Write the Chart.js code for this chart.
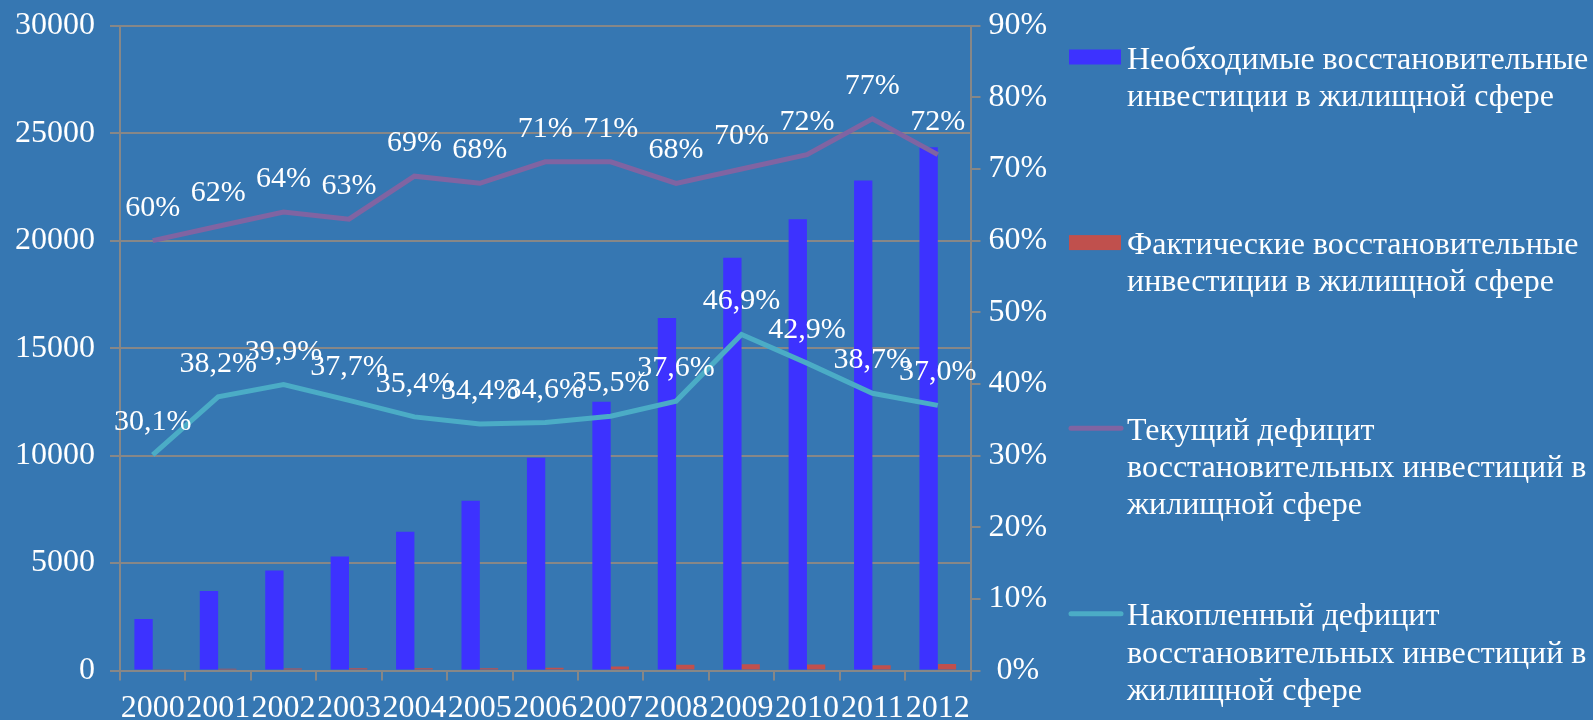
<!DOCTYPE html>
<html><head><meta charset="utf-8">
<script src="https://cdn.jsdelivr.net/npm/chart.js@4/dist/chart.umd.min.js"></script>
<style>
html,body{margin:0;padding:0;background:#3677B2;overflow:hidden;}
#wrap{position:relative;width:1593px;height:720px;}
</style>
</head><body><div id="wrap"><canvas id="c" width="1593" height="720"></canvas></div>
<script>
const categories = ['2000','2001','2002','2003','2004','2005','2006','2007','2008','2009','2010','2011','2012'];
const requiredInvest = [2400,3700,4650,5300,6450,7900,9900,12500,16400,19200,21000,22800,24350];
const actualInvest = [60,80,90,110,110,110,130,190,265,295,280,250,300];
const currentDeficit = [60,62,64,63,69,68,71,71,68,70,72,77,72];
const accumDeficit = [30.1,38.2,39.9,37.7,35.4,34.4,34.6,35.5,37.6,46.9,42.9,38.7,37.0];
const leftAxisMax = 30000, leftAxisStep = 5000;
const rightAxisMax = 90, rightAxisStep = 10;
const seriesNames = [
  'Необходимые восстановительные инвестиции в жилищной сфере',
  'Фактические восстановительные инвестиции в жилищной сфере',
  'Текущий дефицит восстановительных инвестиций в жилищной сфере',
  'Накопленный дефицит восстановительных инвестиций в жилищной сфере'
];

const FONT = "'Liberation Serif', 'Times New Roman', serif";
const GRID = '#878787';
const COLORS = ['#3D32FF', '#C0504D', '#8064A2', '#4BACC6'];

const fmtInt = v => v + '%';
const fmtDec = v => v.toFixed(1).replace('.', ',') + '%';

const dataLabels = {
  id: 'dataLabels',
  afterDatasetsDraw(chart) {
    const ctx = chart.ctx;
    ctx.save();
    ctx.fillStyle = '#ffffff';
    ctx.font = '30px ' + FONT;
    ctx.textAlign = 'center';
    ctx.textBaseline = 'alphabetic';
    chart.data.datasets.forEach((ds, di) => {
      if (!ds.labelFmt) return;
      const meta = chart.getDatasetMeta(di);
      meta.data.forEach((pt, i) => {
        ctx.fillText(ds.labelFmt(ds.data[i]), pt.x, pt.y - 25);
      });
    });
    ctx.restore();
  }
};

const sideLegend = {
  id: 'sideLegend',
  afterDraw(chart) {
    const ctx = chart.ctx;
    ctx.save();
    ctx.font = '32px ' + FONT;
    ctx.fillStyle = '#ffffff';
    ctx.textAlign = 'left';
    ctx.textBaseline = 'alphabetic';
    const symX = 1069, symW = 52, textX = 1127, lineH = 37.2, maxW = 472;
    const firstBase = 68.5, step = 185.6;
    chart.data.datasets.forEach((ds, di) => {
      const base = firstBase + di * step;
      const words = ds.label.split(' ');
      const lines = [];
      let cur = '';
      words.forEach(w => {
        const t = cur ? cur + ' ' + w : w;
        if (ctx.measureText(t).width > maxW && cur) { lines.push(cur); cur = w; }
        else cur = t;
      });
      if (cur) lines.push(cur);
      const cy = base - 11.5;
      if (ds.type === 'line') {
        ctx.strokeStyle = ds.borderColor;
        ctx.lineWidth = 5;
        ctx.lineCap = 'round';
        ctx.beginPath();
        ctx.moveTo(symX + 2, cy);
        ctx.lineTo(symX + symW, cy);
        ctx.stroke();
      } else {
        ctx.fillStyle = ds.backgroundColor;
        ctx.fillRect(symX, cy - 7.5, symW, 15);
      }
      ctx.fillStyle = '#ffffff';
      lines.forEach((ln, k) => ctx.fillText(ln, textX, base + k * lineH));
    });
    ctx.restore();
  }
};

const tickFont = { family: FONT, size: 32 };
const noPadV = s => { s.paddingTop = 0; s.paddingBottom = 0; };

new Chart(document.getElementById('c'), {
  type: 'bar',
  data: {
    labels: categories,
    datasets: [
      { type: 'bar', label: seriesNames[0], data: requiredInvest, backgroundColor: COLORS[0],
        yAxisID: 'y', order: 2, categoryPercentage: 0.56, barPercentage: 1.0 },
      { type: 'bar', label: seriesNames[1], data: actualInvest, backgroundColor: COLORS[1],
        yAxisID: 'y', order: 2, categoryPercentage: 0.56, barPercentage: 1.0 },
      { type: 'line', label: seriesNames[2], data: currentDeficit, borderColor: COLORS[2],
        backgroundColor: COLORS[2], borderWidth: 5, pointRadius: 0, tension: 0, fill: false,
        yAxisID: 'y1', order: 1, labelFmt: fmtInt },
      { type: 'line', label: seriesNames[3], data: accumDeficit, borderColor: COLORS[3],
        backgroundColor: COLORS[3], borderWidth: 5, pointRadius: 0, tension: 0, fill: false,
        yAxisID: 'y1', order: 1, labelFmt: fmtDec }
    ]
  },
  options: {
    responsive: false,
    animation: false,
    devicePixelRatio: 1,
    layout: { padding: { left: 0, top: 25.7, right: 542.5, bottom: 0 } },
    plugins: { legend: { display: false }, tooltip: { enabled: false } },
    scales: {
      x: {
        position: 'bottom',
        offset: true,
        grid: { offset: true, drawOnChartArea: false, drawTicks: true, tickLength: 10, color: GRID, lineWidth: 2 },
        border: { display: true, color: GRID, width: 2 },
        ticks: { color: '#ffffff', font: tickFont, padding: 9, maxRotation: 0, minRotation: 0, autoSkip: false },
        afterFit: s => { s.height = 49.5; s.paddingLeft = 0; s.paddingRight = 0; }
      },
      y: {
        position: 'left',
        min: 0, max: leftAxisMax,
        grid: { color: GRID, lineWidth: 2, tickLength: 10 },
        border: { display: true, color: GRID, width: 2 },
        ticks: { stepSize: leftAxisStep, color: '#ffffff', font: tickFont, padding: 15,
                 callback: v => String(v) },
        afterFit: s => { s.width = 120; noPadV(s); }
      },
      y1: {
        position: 'right',
        min: 0, max: rightAxisMax,
        grid: { drawOnChartArea: false, color: GRID, lineWidth: 2, tickLength: 10 },
        border: { display: true, color: GRID, width: 2 },
        ticks: { stepSize: rightAxisStep, color: '#ffffff', font: tickFont, padding: 8,
                 crossAlign: 'center', callback: v => v + '%' },
        afterFit: s => { s.width = 80; noPadV(s); }
      }
    }
  },
  plugins: [dataLabels, sideLegend]
});
</script>
</body></html>
